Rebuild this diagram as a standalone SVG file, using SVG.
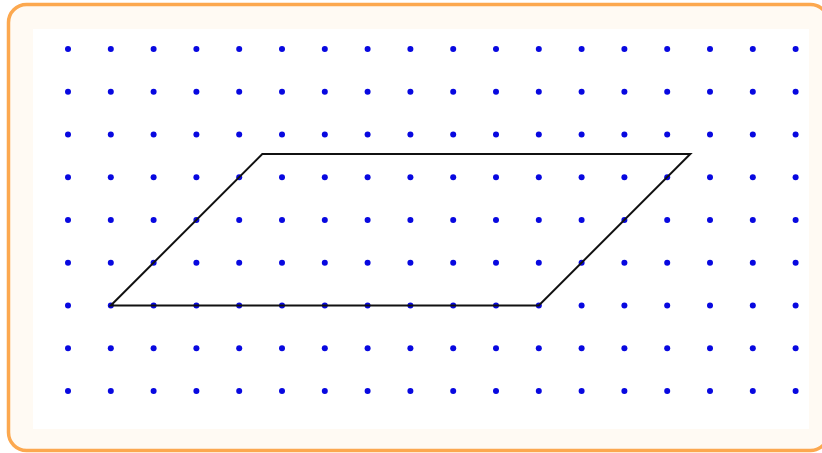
<svg xmlns="http://www.w3.org/2000/svg" width="822" height="453" viewBox="0 0 822 453">
<defs>
<style>
.dot{fill:#0808e0}
.shape{fill:none;stroke:#111;stroke-width:2;stroke-linejoin:miter}
</style>
<circle id="d" class="dot" cx="0" cy="0" r="3"/>
<g id="row">
<use href="#d" x="68"/><use href="#d" x="110.8"/><use href="#d" x="153.6"/><use href="#d" x="196.4"/><use href="#d" x="239.2"/><use href="#d" x="282"/><use href="#d" x="324.8"/><use href="#d" x="367.6"/><use href="#d" x="410.4"/><use href="#d" x="453.2"/><use href="#d" x="496"/><use href="#d" x="538.8"/><use href="#d" x="581.6"/><use href="#d" x="624.4"/><use href="#d" x="667.2"/><use href="#d" x="710"/><use href="#d" x="752.8"/><use href="#d" x="795.6"/>
</g>
</defs>
<rect x="8.5" y="4.5" width="820" height="446" rx="18" ry="18" fill="#fffaf3" stroke="#fca84f" stroke-width="3.5"/>
<rect x="33" y="29" width="776" height="400" fill="#ffffff"/>
<g id="dots">
<use href="#row" y="49"/>
<use href="#row" y="91.75"/>
<use href="#row" y="134.5"/>
<use href="#row" y="177.25"/>
<use href="#row" y="220"/>
<use href="#row" y="262.75"/>
<use href="#row" y="305.5"/>
<use href="#row" y="348.25"/>
<use href="#row" y="391"/>
</g>
<g id="parallelogram">
<polygon class="shape" points="110.8,305.5 262.3,154 690.3,154 538.8,305.5"/>
</g>
</svg>
